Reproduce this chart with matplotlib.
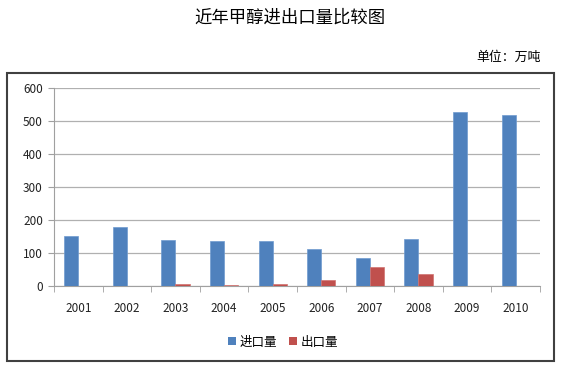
import matplotlib
matplotlib.use("Agg")
import matplotlib.pyplot as plt
from matplotlib.patches import Rectangle, Patch
import numpy as np

plt.rcParams['font.family'] = ['Noto Sans CJK SC', 'DejaVu Sans']

# data (万吨)
years = ["2001", "2002", "2003", "2004", "2005", "2006", "2007", "2008", "2009", "2010"]
imports = [150, 180, 139, 135, 135, 112, 84, 142, 528, 519]
exports = [0, 0, 4, 2, 4, 17, 56, 36, 0, 0]
series_names = ["进口量", "出口量"]
colors = ["#4F81BD", "#C0504D"]

fig = plt.figure(figsize=(5.64, 3.69), dpi=100)
fig.patch.set_facecolor("white")

# outer frame
fig.patches.append(Rectangle((0.0124, 0.0217), 0.970, 0.780, transform=fig.transFigure,
                             fill=False, edgecolor="#404040", linewidth=1.5))

ax = fig.add_axes([0.0957, 0.2257, 0.8617, 0.5345])
x = np.arange(len(years))
w = 0.29
ax.bar(x - w / 2, imports, width=w, color=colors[0], edgecolor="#6f9bd0", linewidth=0.5, zorder=3)
ax.bar(x + w / 2, exports, width=w, color=colors[1], edgecolor="#d07370", linewidth=0.5, zorder=3)

ax.set_xlim(-0.5, len(years) - 0.5)
ax.set_ylim(0, 600)
ax.set_yticks(range(0, 601, 100))
ax.set_xticks(x)
ax.set_xticklabels(years)
ax.set_xticks(np.arange(-0.5, len(years)), minor=True)
ax.tick_params(axis="x", which="major", length=0, pad=12, labelsize=8.5, colors="#222222")
ax.tick_params(axis="x", which="minor", length=4, color="#a0a0a0")
ax.tick_params(axis="y", length=4, color="#a0a0a0", labelsize=8.5, labelcolor="#222222", pad=4)
ax.grid(axis="y", color="#b0b0b0", linewidth=0.9, zorder=0)
for s in ["top", "right"]:
    ax.spines[s].set_visible(False)
ax.spines["left"].set_color("#a0a0a0")
ax.spines["bottom"].set_color("#a0a0a0")

fig.text(0.514, 0.953, "近年甲醇进出口量比较图", ha="center", va="center", fontsize=12.5)
fig.text(0.958, 0.845, "单位：万吨", ha="right", va="center", fontsize=9.3)

handles = [Patch(facecolor=c) for c in colors]
fig.legend(handles, series_names, loc="center", bbox_to_anchor=(0.502, 0.073), ncol=2,
           frameon=False, fontsize=9, handlelength=0.6, handleheight=0.6,
           handletextpad=0.3, columnspacing=1.0)

fig.savefig("out.png", dpi=100)
